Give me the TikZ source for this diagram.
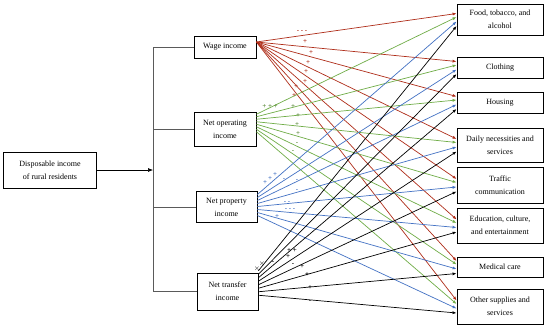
\documentclass[tikz,border=0pt]{standalone}
\usepackage{fontspec}
\setmainfont{Liberation Serif}
\usetikzlibrary{arrows.meta}
\definecolor{cred}{RGB}{175,45,25}
\definecolor{cgreen}{RGB}{112,173,71}
\definecolor{cblue}{RGB}{68,114,196}
\definecolor{cgrey}{RGB}{90,90,90}
\begin{document}
\begin{tikzpicture}[x=1pt,y=-1pt,
 box/.style={draw=black,line width=0.8pt,fill=white,align=center,inner sep=0pt,font=\fontsize{8}{13}\selectfont},
 tbox/.style={box,minimum width=86pt},
 link/.style={line width=0.7pt,-{Latex[length=4pt,width=3pt]}},
 bracket/.style={draw=cgrey,line width=0.8pt},
 sign/.style={font=\fontsize{7}{7}\selectfont\bfseries,inner sep=0pt}]
\useasboundingbox[fill=white] (0,0) rectangle (550,330);

% source
\node[box,minimum width=93pt,minimum height=36pt] (disp) at (50,170) {Disposable income\\of rural residents};

% middle
\node[box,minimum width=62pt,minimum height=22pt] (wage) at (225,47) {Wage income};
\node[box,minimum width=62pt,minimum height=34pt] (oper) at (225,129) {Net operating\\income};
\node[box,minimum width=61pt,minimum height=31pt] (prop) at (226.5,207) {Net property\\income};
\node[box,minimum width=61pt,minimum height=37pt] (trans) at (227.5,291.5) {Net transfer\\income};

% targets
\node[tbox,minimum height=31pt] (t1) at (500,19.5) {Food, tobacco, and\\alcohol};
\node[tbox,minimum height=21pt] (t2) at (500,67.5) {Clothing};
\node[tbox,minimum height=21pt] (t3) at (500,102.5) {Housing};
\node[tbox,minimum height=34pt] (t4) at (500,145) {Daily necessities and\\services};
\node[tbox,minimum height=36pt] (t5) at (500,185) {Traffic\\communication};
\node[tbox,minimum height=35pt] (t6) at (500,225.5) {Education, culture,\\and entertainment};
\node[tbox,minimum height=20pt] (t7) at (500,267) {Medical care};
\node[tbox,minimum height=35pt] (t8) at (500,306.5) {Other supplies and\\services};

% bracket
\coordinate (bt) at (153,47);
\coordinate (bb) at (153,292);
\coordinate (bm) at (153,170);
\draw[bracket] (bt) -- (bb);
\draw[bracket] (bt) -- (wage.west);
\draw[bracket] (oper.west -| bt) -- (oper.west);
\draw[bracket] (prop.west -| bt) -- (prop.west);
\draw[bracket] (trans.west -| bt) -- (trans.west);
\draw[line width=0.6pt,-{Latex[length=5pt,width=4pt]}] (disp.east) -- (bm);

% connectors
\foreach \t [count=\i] in {t1,t2,t3,t4,t5,t6,t7,t8} {
  \draw[link,cred] ([yshift=5pt]wage.east) -- ([yshift=6pt]\t.west);
}
\foreach \t [count=\i] in {t1,t2,t3,t4,t5,t6,t7,t8} {
  \pgfmathsetmacro{\ys}{6-(\i-4.5)*2.5}
  \draw[link,cgreen] ([yshift=\ys pt]oper.east) -- ([yshift=2.5pt]\t.west);
}
\foreach \t [count=\i] in {t1,t2,t3,t4,t5,t6,t7,t8} {
  \pgfmathsetmacro{\ys}{2-(\i-4.5)*3}
  \draw[link,cblue] ([yshift=\ys pt]prop.east) -- ([yshift=-2pt]\t.west);
}
\foreach \t [count=\i] in {t1,t2,t3,t4,t5,t6,t7,t8} {
  \pgfmathsetmacro{\ys}{8.5-(\i-4.5)*3.5}
  \draw[link,black] ([yshift=\ys pt]trans.east) -- ([yshift=-6.5pt]\t.west);
}

% signs: wage income
\begin{scope}[every node/.style={sign,text=cred}]
\node (sr1) at (302,32) {- - -};
\node (sr2) at (305,42) {+};
\node (sr3) at (311,53) {+};
\node (sr4) at (308,63) {+};
\node (sr5) at (306,72) {+};
\node (sr6) at (305,82) {+};
\node (sr7) at (296,87) {+};
\node (sr8) at (294,96) {+};
\end{scope}
% signs: net operating income
\begin{scope}[every node/.style={sign,text=cgreen!80!black}]
\node (sg1) at (270,107) {+ + +};
\node (sg2) at (293,107) {+};
\node (sg3) at (298,116) {+};
\node (sg4) at (297,125) {+};
\node (sg5) at (298,134) {+};
\node (sg6) at (297,144) {-};
\node (sg7) at (293,152) {-};
\end{scope}
% signs: net property income
\begin{scope}[every node/.style={sign,text=cblue}]
\node (sb1a) at (265,183) {+};
\node (sb1b) at (270,179) {+};
\node (sb1c) at (275,175) {+};
\node (sb2) at (284,180) {-};
\node (sb3) at (297,181) {-};
\node (sb4) at (297,191) {-};
\node (sb5) at (287,203) {- -};
\node (sb6) at (290,210) {- - -};
\node (sb7) at (277,217) {+};
\end{scope}
% signs: net transfer income
\begin{scope}[every node/.style={sign,text=black}]
\node (sk1) at (257,269) {$\times$};
\node (sk2) at (262,264) {$\times$};
\node (sk3) at (273,263) {-};
\node (sk4) at (292,251) {+ +};
\node (sk5) at (288,257) {+};
\node (sk6) at (293,265) {-};
\node (sk7) at (302,267) {+};
\node (sk8) at (307,275) {+};
\node (sk9) at (310,288) {+};
\node (sk10) at (310,302) {-};
\end{scope}
\end{tikzpicture}
\end{document}
